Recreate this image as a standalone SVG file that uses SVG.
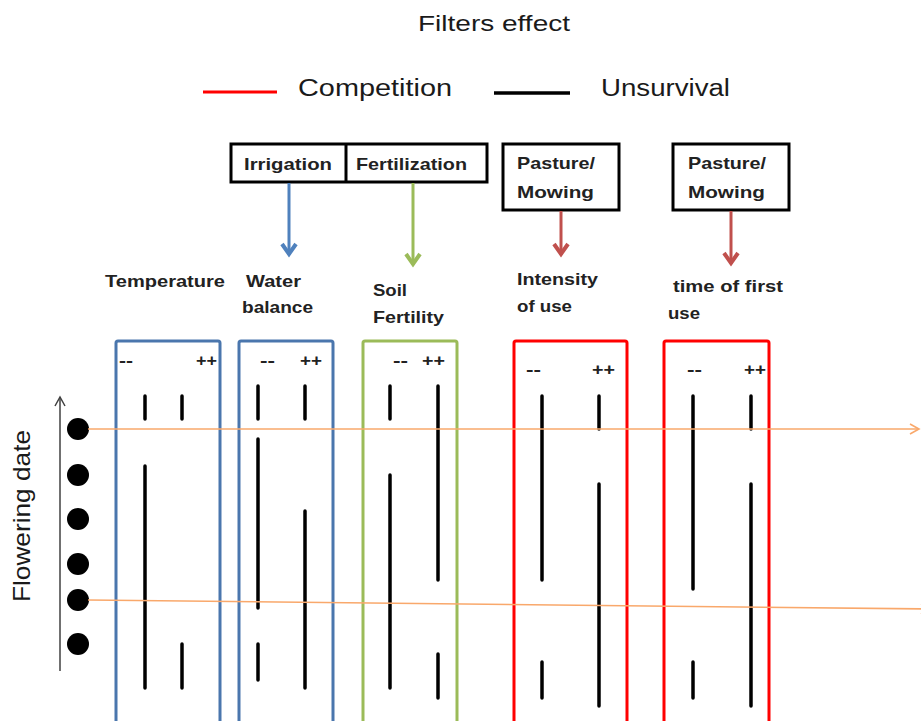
<svg xmlns="http://www.w3.org/2000/svg" width="921" height="721" viewBox="0 0 921 721">
<defs>
<style>
text{font-family:"Liberation Sans",Arial,sans-serif;fill:#1a1a1a}
.lbl{font-size:17px;font-weight:bold;fill:#222}
.pm{font-size:17px;fill:#222;font-weight:bold}
.bar{stroke:#000;stroke-width:3.5;stroke-linecap:round}
.fbox{fill:none;stroke-width:3}
.tbox{fill:none;stroke:#000;stroke-width:3}
.orange{stroke:#f9a86b;stroke-width:1.6;fill:none}
</style>
<marker id="mBlue" markerWidth="18" markerHeight="20" refX="13" refY="9" orient="auto" markerUnits="userSpaceOnUse"><path d="M2,2 L12,9 L2,16" fill="none" stroke="#4f81bd" stroke-width="4"/></marker>
<marker id="mGreen" markerWidth="18" markerHeight="20" refX="13" refY="9" orient="auto" markerUnits="userSpaceOnUse"><path d="M2,2 L12,9 L2,16" fill="none" stroke="#9bbb59" stroke-width="4"/></marker>
<marker id="mRed" markerWidth="18" markerHeight="20" refX="13" refY="9" orient="auto" markerUnits="userSpaceOnUse"><path d="M2,2 L12,9 L2,16" fill="none" stroke="#c0504d" stroke-width="4"/></marker>
<marker id="mOrange" markerWidth="12" markerHeight="12" refX="10" refY="6" orient="auto" markerUnits="userSpaceOnUse"><path d="M1,1 L10,6 L1,11" fill="none" stroke="#f9a86b" stroke-width="1.6"/></marker>
<marker id="mGray" markerWidth="14" markerHeight="12" refX="10" refY="6" orient="auto" markerUnits="userSpaceOnUse"><path d="M1,1 L10,6 L1,11" fill="none" stroke="#404040" stroke-width="1.5"/></marker>
</defs>
<rect width="921" height="721" fill="#fff"/>

<g id="title"><text x="418" y="31" font-size="22" textLength="152" lengthAdjust="spacingAndGlyphs">Filters effect</text></g>

<g id="legend">
<line x1="203" y1="92" x2="277" y2="92" stroke="#ff0000" stroke-width="3"/>
<text x="298" y="96" font-size="23" textLength="154" lengthAdjust="spacingAndGlyphs">Competition</text>
<line x1="494" y1="93" x2="570" y2="93" stroke="#000" stroke-width="3.5"/>
<text x="601" y="96" font-size="23" textLength="129" lengthAdjust="spacingAndGlyphs">Unsurvival</text>
</g>

<g id="irrigation-fertilization">
<rect class="tbox" x="231" y="144" width="256" height="38"/>
<line x1="346" y1="144" x2="346" y2="182" stroke="#000" stroke-width="3"/>
<text class="lbl" x="244" y="170" textLength="88" lengthAdjust="spacingAndGlyphs">Irrigation</text>
<text class="lbl" x="356" y="170" textLength="111" lengthAdjust="spacingAndGlyphs">Fertilization</text>
</g>
<g id="pasture1">
<rect class="tbox" x="503" y="144" width="116" height="66"/>
<text class="lbl" x="517" y="169" textLength="78" lengthAdjust="spacingAndGlyphs">Pasture/</text>
<text class="lbl" x="517" y="198" textLength="77" lengthAdjust="spacingAndGlyphs">Mowing</text>
</g>
<g id="pasture2">
<rect class="tbox" x="673" y="144" width="116" height="66"/>
<text class="lbl" x="688" y="169" textLength="78" lengthAdjust="spacingAndGlyphs">Pasture/</text>
<text class="lbl" x="688" y="198" textLength="77" lengthAdjust="spacingAndGlyphs">Mowing</text>
</g>

<g id="labels">
<text class="lbl" x="105" y="287" textLength="120" lengthAdjust="spacingAndGlyphs">Temperature</text>
<text class="lbl" x="246" y="287" textLength="55" lengthAdjust="spacingAndGlyphs">Water</text>
<text class="lbl" x="242" y="313" textLength="71" lengthAdjust="spacingAndGlyphs">balance</text>
<text class="lbl" x="373" y="296" textLength="34" lengthAdjust="spacingAndGlyphs">Soil</text>
<text class="lbl" x="373" y="323" textLength="71" lengthAdjust="spacingAndGlyphs">Fertility</text>
<text class="lbl" x="517" y="285" textLength="81" lengthAdjust="spacingAndGlyphs">Intensity</text>
<text class="lbl" x="517" y="312" textLength="55" lengthAdjust="spacingAndGlyphs">of use</text>
<text class="lbl" x="673" y="292" textLength="110" lengthAdjust="spacingAndGlyphs">time of first</text>
<text class="lbl" x="668" y="319" textLength="32" lengthAdjust="spacingAndGlyphs">use</text>
</g>

<g id="box-temperature">
<rect class="fbox" x="116" y="341" width="104" height="400" rx="2" stroke="#4a76ad"/>
<text class="pm" x="119" y="366" textLength="14" lengthAdjust="spacingAndGlyphs">--</text><text class="pm" x="196" y="366" textLength="21" lengthAdjust="spacingAndGlyphs">++</text>
<line class="bar" x1="145" y1="396" x2="145" y2="419"/>
<line class="bar" x1="182" y1="396" x2="182" y2="419"/>
<line class="bar" x1="145" y1="466" x2="145" y2="688"/>
<line class="bar" x1="182" y1="644" x2="182" y2="688"/>
</g>
<g id="box-water">
<rect class="fbox" x="239" y="341" width="94" height="400" rx="2" stroke="#4a76ad"/>
<text class="pm" x="260" y="366" textLength="15" lengthAdjust="spacingAndGlyphs">--</text><text class="pm" x="300" y="366" textLength="22" lengthAdjust="spacingAndGlyphs">++</text>
<line class="bar" x1="258" y1="386" x2="258" y2="419"/>
<line class="bar" x1="305" y1="386" x2="305" y2="419"/>
<line class="bar" x1="258" y1="439" x2="258" y2="608"/>
<line class="bar" x1="305" y1="511" x2="305" y2="688"/>
<line class="bar" x1="258" y1="644" x2="258" y2="680"/>
</g>
<g id="box-soil">
<rect class="fbox" x="363" y="341" width="94" height="400" rx="2" stroke="#9bbb59"/>
<text class="pm" x="393" y="366" textLength="15" lengthAdjust="spacingAndGlyphs">--</text><text class="pm" x="422" y="366" textLength="23" lengthAdjust="spacingAndGlyphs">++</text>
<line class="bar" x1="390" y1="386" x2="390" y2="419"/>
<line class="bar" x1="438" y1="386" x2="438" y2="580"/>
<line class="bar" x1="390" y1="475" x2="390" y2="688"/>
<line class="bar" x1="438" y1="654" x2="438" y2="698"/>
</g>
<g id="box-intensity">
<rect class="fbox" x="514" y="341" width="113" height="400" rx="2" stroke="#ff0000"/>
<text class="pm" x="526" y="375" textLength="15" lengthAdjust="spacingAndGlyphs">--</text><text class="pm" x="592" y="375" textLength="23" lengthAdjust="spacingAndGlyphs">++</text>
<line class="bar" x1="542" y1="396" x2="542" y2="580"/>
<line class="bar" x1="599" y1="396" x2="599" y2="429"/>
<line class="bar" x1="599" y1="484" x2="599" y2="706"/>
<line class="bar" x1="542" y1="662" x2="542" y2="698"/>
</g>
<g id="box-time">
<rect class="fbox" x="664" y="341" width="105" height="400" rx="2" stroke="#ff0000"/>
<text class="pm" x="687" y="375" textLength="15" lengthAdjust="spacingAndGlyphs">--</text><text class="pm" x="744" y="375" textLength="22" lengthAdjust="spacingAndGlyphs">++</text>
<line class="bar" x1="693" y1="396" x2="693" y2="589"/>
<line class="bar" x1="751" y1="396" x2="751" y2="429"/>
<line class="bar" x1="751" y1="484" x2="751" y2="706"/>
<line class="bar" x1="693" y1="662" x2="693" y2="698"/>
</g>

<g id="flowering-axis">
<line x1="60" y1="671" x2="60" y2="397" stroke="#404040" stroke-width="1.5" marker-end="url(#mGray)"/>
<text x="0" y="0" font-size="24" text-anchor="middle" transform="translate(30,516) rotate(-90)" textLength="172" lengthAdjust="spacingAndGlyphs">Flowering date</text>
<circle cx="78" cy="429" r="11" fill="#000"/>
<circle cx="78" cy="475" r="11" fill="#000"/>
<circle cx="78" cy="519" r="11" fill="#000"/>
<circle cx="78" cy="564" r="11" fill="#000"/>
<circle cx="78" cy="600" r="11" fill="#000"/>
<circle cx="78" cy="644" r="11" fill="#000"/>
</g>

<g id="connectors">
<line x1="289" y1="183" x2="289" y2="255" stroke="#4f81bd" stroke-width="3" marker-end="url(#mBlue)"/>
<line x1="413" y1="183" x2="413" y2="265" stroke="#9bbb59" stroke-width="3" marker-end="url(#mGreen)"/>
<line x1="561" y1="211" x2="561" y2="255" stroke="#c0504d" stroke-width="3" marker-end="url(#mRed)"/>
<line x1="731" y1="211" x2="731" y2="264" stroke="#c0504d" stroke-width="3" marker-end="url(#mRed)"/>
<line class="orange" x1="88" y1="429" x2="919" y2="429" marker-end="url(#mOrange)"/>
<line class="orange" x1="88" y1="600" x2="930" y2="609" marker-end="url(#mOrange)"/>
</g>
</svg>
